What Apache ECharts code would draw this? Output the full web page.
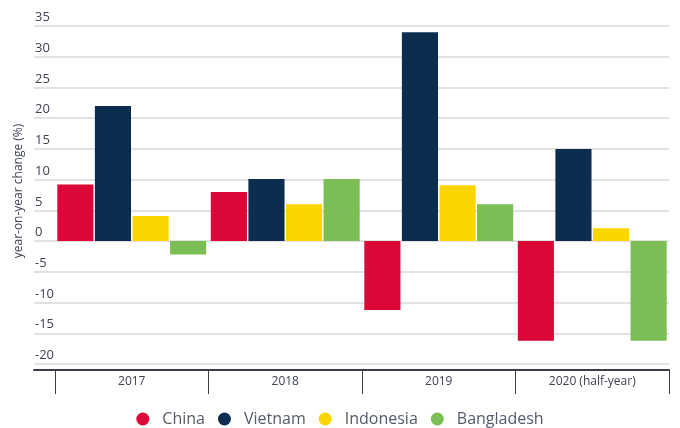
<!DOCTYPE html>
<html>
<head>
<meta charset="utf-8">
<script src="https://cdn.jsdelivr.net/npm/echarts@6/dist/echarts.min.js"></script>
<style>html,body{margin:0;padding:0;background:#fff;}#c{width:680px;height:428px;}</style>
</head>
<body>
<div id="c"></div>
<script>
const categories = ['2017', '2018', '2019', '2020 (half-year)'];
const china = [9.2, 8.0, -11.2, -16.2];
const vietnam = [22.0, 10.1, 34.0, 15.0];
const indonesia = [4.1, 6.0, 9.1, 2.1];
const bangladesh = [-2.2, 10.1, 6.0, -16.2];
const seriesNames = ['China', 'Vietnam', 'Indonesia', 'Bangladesh'];
const seriesColors = ['#DC0638', '#0C2D4F', '#FCD500', '#7BBE55'];
const yMin = -20, yMax = 35, yStep = 5;

const font = 'Open Sans';
const textColor = '#3f4352';
const chart = echarts.init(document.getElementById('c'));
const dataSets = [china, vietnam, indonesia, bangladesh];

chart.setOption({
  animation: false,
  textStyle: { fontFamily: font },
  grid: [
    { left: 34, right: 11, top: 26, bottom: 64 },
    { left: 55, right: 11, top: 26, bottom: 64 }
  ],
  legend: {
    data: seriesNames,
    top: 406,
    left: 'center',
    icon: 'circle',
    itemWidth: 13,
    itemHeight: 13,
    itemGap: 13,
    textStyle: { fontFamily: font, fontSize: 16, color: '#555a6b', padding: [0, 0, 0, 8] }
  },
  xAxis: [
    {
      gridIndex: 0, type: 'category', data: categories, offset: 6,
      axisLine: { show: true, onZero: false, lineStyle: { color: '#3b3e48', width: 2 } },
      axisTick: { show: false }, axisLabel: { show: false }, splitLine: { show: false }
    },
    {
      gridIndex: 1, type: 'category', data: categories, offset: 6,
      axisLine: { show: false, onZero: false },
      axisTick: { show: true, length: 24, lineStyle: { color: '#3b3e48', width: 1 } },
      axisLabel: { margin: 6, fontSize: 12, color: textColor, fontFamily: font },
      splitLine: { show: false }
    }
  ],
  yAxis: [
    {
      gridIndex: 0, type: 'value', min: yMin, max: yMax, interval: yStep,
      name: 'year-on-year change (%)', nameLocation: 'middle', nameGap: 6,
      nameTextStyle: { fontSize: 12, color: textColor, fontFamily: font, padding: [0, 0, 0, 8] },
      axisLine: { show: false }, axisTick: { show: false },
      axisLabel: { inside: true, margin: 1, fontSize: 13, color: textColor, fontFamily: font,
        verticalAlign: 'bottom', padding: [0, 0, 2, 0] },
      splitLine: { show: true, lineStyle: { color: '#d9d9d9', width: 1.5 } }
    },
    {
      gridIndex: 1, type: 'value', min: yMin, max: yMax, interval: yStep,
      show: false, splitLine: { show: false }
    }
  ],
  series: seriesNames.map((n, i) => ({
    name: n, type: 'bar', xAxisIndex: 1, yAxisIndex: 1,
    data: dataSets[i],
    itemStyle: { color: seriesColors[i] },
    barCategoryGap: '3%', barGap: '4%'
  }))
});
</script>
</body>
</html>
